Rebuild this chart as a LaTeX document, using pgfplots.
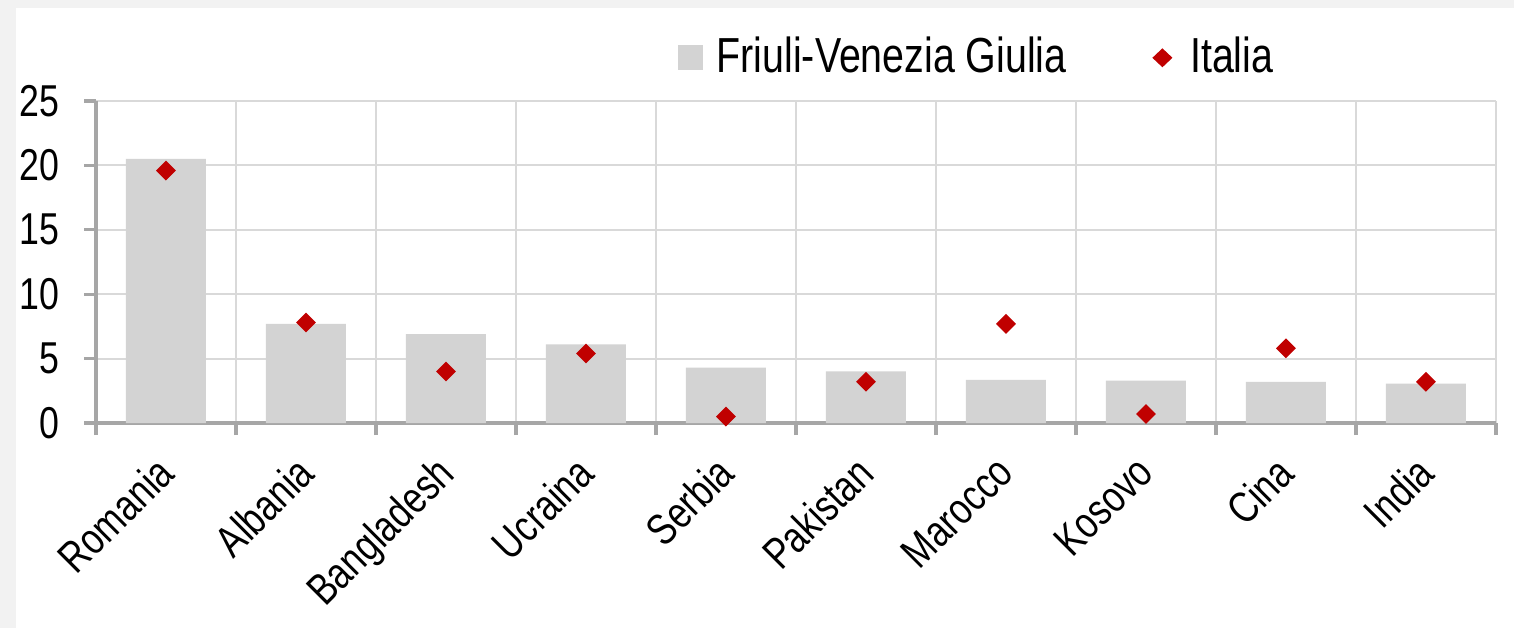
\documentclass[border=0pt]{standalone}
\usepackage{fontspec}
\setmainfont{Liberation Sans}[FakeStretch=0.8]
\usepackage{pgfplots}
\pgfplotsset{compat=1.18}
\definecolor{barc}{HTML}{D3D3D3}
\definecolor{dotc}{HTML}{C00000}
\definecolor{gridc}{HTML}{D9D9D9}
\definecolor{axisc}{HTML}{A6A6A6}
\definecolor{framec}{HTML}{F2F2F2}

\begin{document}
\begin{tikzpicture}
\useasboundingbox (0,0) rectangle (15.14cm,6.28cm);
\fill[framec] (0,0) rectangle (15.14cm,6.28cm);
\fill[white] (0.16cm,0) rectangle (15.14cm,6.2cm);
\begin{axis}[
 at={(0.96cm,2.05cm)}, anchor=south west,
 width=14cm, height=3.22cm, scale only axis,
 xmin=-0.5, xmax=9.5, ymin=0, ymax=25,
 axis x line*=bottom, axis y line*=left,
 axis line style={axisc, line width=0.9pt, -},
 xtick={0,...,9},
 xticklabels={Romania,Albania,Bangladesh,Ucraina,Serbia,Pakistan,Marocco,Kosovo,Cina,India},
 major x tick style={draw=none},
 minor xtick={-0.5,0.5,...,9.5},
 xminorgrids=true, ymajorgrids=true,
 grid style={gridc, line width=0.6pt},
 minor grid style={gridc, line width=0.6pt},
 ytick={0,5,...,25},
 tick align=outside,
 major tick length=0.12cm, minor tick length=0.12cm,
 tick style={axisc, line width=0.9pt},
 /pgf/number format/assume math mode=true,
 yticklabel style={font=\fontsize{12.7}{14}\selectfont, xshift=-0.12cm},
 xticklabel style={font=\fontsize{12.5}{14}\selectfont, rotate=45, anchor=north east,
                   xshift=-0.095cm, yshift=0.076cm},
 legend columns=2,
 legend style={at={(0.854,1)}, anchor=south east, yshift=0.08cm, draw=none, fill=none,
               font=\fontsize{14}{15}\selectfont,
               /tikz/every even column/.append style={column sep=0.79cm}},
]
\addplot[ybar, bar width=0.8cm, fill=barc, draw=none,
 legend image code/.code={\fill[barc] (0cm,-0.125cm) rectangle (0.25cm,0.125cm);
                          \path (0.32cm,0);}]
 coordinates {(0,20.5) (1,7.7) (2,6.9) (3,6.1) (4,4.3) (5,4.0) (6,3.35) (7,3.3) (8,3.2) (9,3.05)};
\addlegendentry{Friuli-Venezia Giulia}
\addplot[only marks, mark=square*, mark size=1.8pt, mark options={rotate=45}, color=dotc,
 legend image code/.code={\fill[dotc] (0,0.085cm) -- (0.09cm,0) -- (0,-0.085cm) -- (-0.09cm,0) -- cycle;
                          \path (0.2cm,0);}]
 coordinates {(0,19.6) (1,7.8) (2,4.0) (3,5.4) (4,0.5) (5,3.2) (6,7.7) (7,0.7) (8,5.8) (9,3.2)};
\addlegendentry{Italia}
\end{axis}
\end{tikzpicture}
\end{document}
